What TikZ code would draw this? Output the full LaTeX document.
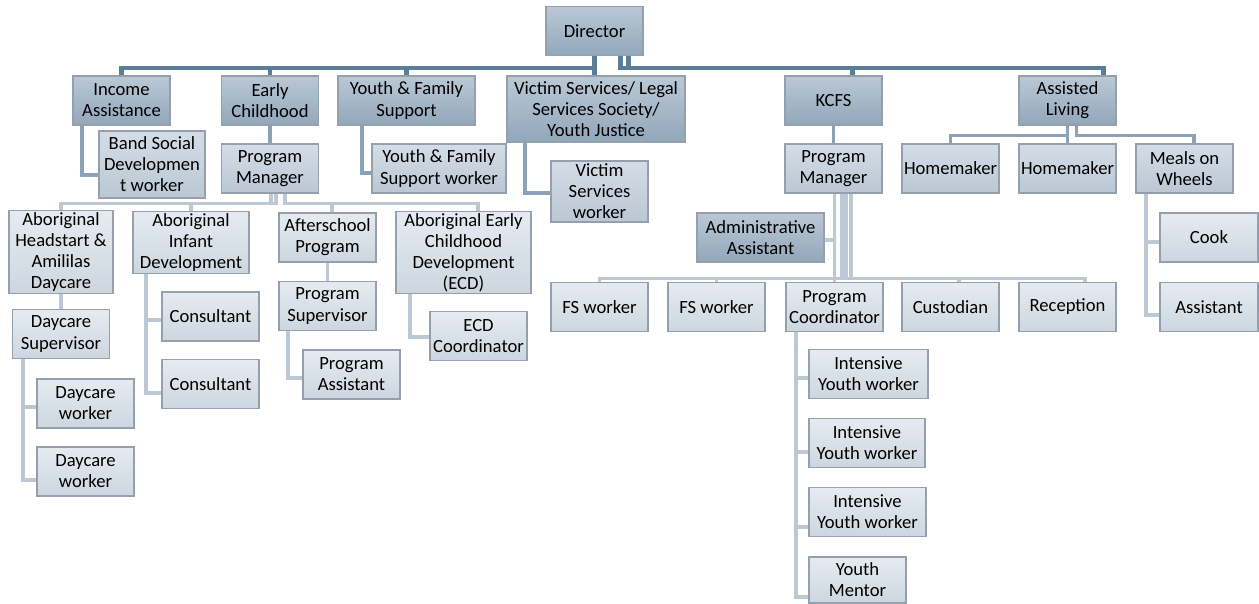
\documentclass[tikz,border=0pt]{standalone}
\usepackage{fontspec}
\setmainfont{Carlito}
\usepackage{tikz}
\usetikzlibrary{positioning,calc,backgrounds}
\usepackage{xcolor}
\definecolor{toplinecolor}{RGB}{90,125,152}
\definecolor{midlinecolor}{RGB}{140,162,182}
\definecolor{lowlinecolor}{RGB}{188,200,212}
\definecolor{boxline}{RGB}{150,160,172}
\definecolor{headtop}{RGB}{186,200,213}
\definecolor{headbot}{RGB}{146,167,187}
\definecolor{midtop}{RGB}{212,221,230}
\definecolor{midbot}{RGB}{186,199,212}
\definecolor{lowtop}{RGB}{229,235,241}
\definecolor{lowbot}{RGB}{205,214,223}

\begin{document}
\begin{tikzpicture}[
    x=0.02cm, y=-0.02cm,
    unit/.style={rectangle, draw=boxline, line width=0.6pt, align=center, inner sep=1pt,
        minimum width=1.94cm, minimum height=0.98cm, font=\fontsize{10.6}{12}\selectfont},
    head/.style={unit, top color=headtop, bottom color=headbot},
    mid/.style={unit, top color=midtop, bottom color=midbot},
    low/.style={unit, top color=lowtop, bottom color=lowbot},
    topline/.style={draw=toplinecolor, line width=2.5pt},
    midline/.style={draw=midlinecolor, line width=2pt},
    lowline/.style={draw=lowlinecolor, line width=2pt},
]
    \useasboundingbox (0,0) rectangle (1259,603);

    % === DIRECTOR ===
    \node[head] (dir) at (594.5,31) {Director};

    % Departments
    \node[head] (inc) at (121.5,100.5) {Income\\Assistance};
    \node[head] (early) at (270,100.5) {Early\\Childhood};
    \node[head, minimum width=2.74cm] (yfs) at (406.5,100.5) {Youth \& Family\\Support};
    \node[head, minimum width=3.56cm, minimum height=1.32cm] (vic) at (596,109) {Victim Services/ Legal\\Services Society/\\Youth Justice};
    \node[head] (kcfs) at (833.5,100.5) {KCFS};
    \node[head] (al) at (1067.5,100.5) {Assisted\\Living};

    % Second row
    \node[mid, minimum width=2.12cm, minimum height=1.34cm] (band) at (152,164.5) {Band Social\\Developmen\\t worker};
    \node[mid] (pmec) at (270,168.5) {Program\\Manager};
    \node[mid, minimum width=2.68cm] (yfsw) at (439,168.5) {Youth \& Family\\Support worker};
    \node[mid, minimum height=1.22cm] (vsw) at (599.5,191.5) {Victim\\Services\\worker};
    \node[mid] (pmkc) at (833.5,168.5) {Program\\Manager};
    \node[mid] (hma) at (950.5,168.5) {Homemaker};
    \node[mid] (hmb) at (1067.5,168.5) {Homemaker};
    \node[mid] (mow) at (1184.5,168.5) {Meals on\\Wheels};

    % Early childhood programs
    \node[low, minimum width=2.08cm, minimum height=1.56cm] (hdst) at (61,252) {Aboriginal\\Headstart \&\\Amililas\\Daycare};
    \node[low, minimum width=2.32cm, minimum height=1.18cm] (inf) at (191,242.5) {Aboriginal\\Infant\\Development};
    \node[low] (aft) at (327.5,237.5) {Afterschool\\Program};
    \node[low, minimum width=2.7cm, minimum height=1.58cm] (ecd) at (463.5,252.5) {Aboriginal Early\\Childhood\\Development\\(ECD)};

    \node[low] (dsup) at (61,334) {Daycare\\Supervisor};
    \node[low] (dwa) at (85.5,403.5) {Daycare\\worker};
    \node[low] (dwb) at (85.5,471.5) {Daycare\\worker};
    \node[low] (cona) at (210.5,316.5) {Consultant};
    \node[low] (conb) at (210.5,384) {Consultant};
    \node[low] (psup) at (327.5,306) {Program\\Supervisor};
    \node[low] (passt) at (351.5,374.5) {Program\\Assistant};
    \node[low] (ecdc) at (478.5,336) {ECD\\Coordinator};

    % KCFS staff
    \node[head, minimum width=2.54cm] (admin) at (760.5,237.5) {Administrative\\Assistant};
    \node[low] (fsa) at (599.5,307) {FS worker};
    \node[low] (fsb) at (716.5,307) {FS worker};
    \node[low] (pc) at (834.5,307) {Program\\Coordinator};
    \node[low] (cust) at (950.5,307) {Custodian};
    \node[low] (rec) at (1067.5,307) {Reception};

    \node[low, minimum width=2.38cm] (iywa) at (868.5,374) {Intensive\\Youth worker};
    \node[low, minimum width=2.32cm] (iywb) at (867,443) {Intensive\\Youth worker};
    \node[low, minimum width=2.34cm] (iywc) at (867.5,512) {Intensive\\Youth worker};
    \node[low, minimum height=0.92cm] (ym) at (857.5,580) {Youth\\Mentor};

    % Meals on wheels staff
    \node[low, minimum width=1.96cm] (cook) at (1209,237.5) {Cook};
    \node[low, minimum width=1.96cm] (asst) at (1209,307) {Assistant};

    % === CONNECTORS ===
    \begin{scope}[on background layer]
    \foreach \n in {inc, early, yfs} {
        \draw[topline] (dir.south) -- ++(0,12) -| (\n.north);
    }
    \draw[topline] (dir.south) -- (dir.south |- vic.north);
    \draw[topline] ($(dir.south)+(26,0)$) -- ++(0,12) -| ($(kcfs.north)+(19,0)$);
    \draw[topline] ($(dir.south)+(34,0)$) -- ++(0,12) -| ($(al.north)+(36,0)$);

    \draw[midline] ($(inc.south)+(-39.5,0)$) |- ($(band.west)+(0,10.5)$);
    \draw[midline] (early.south) -- (pmec.north);
    \draw[midline] ($(yfs.south)+(-44.5,0)$) |- ($(yfsw.west)+(0,4.5)$);
    \draw[midline] ($(vic.south)+(-71,0)$) |- ($(vsw.west)+(0,1.5)$);
    \draw[midline] (kcfs.south) -- (pmkc.north);
    \draw[midline] (al.south) -- ++(0,10) -| (hma.north);
    \draw[midline] (al.south) -- (hmb.north);
    \draw[midline] ($(al.south)+(9,0)$) -- ++(0,10) -| ($(mow.north)+(9.5,0)$);

    % Early childhood
    \draw[lowline] ($(pmec.south)+(1,0)$) -- ++(0,10) -| (hdst.north);
    \draw[lowline] ($(pmec.south)+(6,0)$) -- ++(0,10) -| (inf.north);
    \draw[lowline] ($(pmec.south)+(15,0)$) -- ++(0,10) -| ($(aft.north)+(4.5,0)$);
    \draw[lowline] ($(pmec.south)+(15,0)$) -- ++(0,10) -| ($(ecd.north)+(14.5,0)$);

    \draw[lowline] (hdst.south) -- (dsup.north);
    \draw[lowline] ($(dsup.south)+(-38,0)$) |- ($(dwa.west)+(0,3.5)$);
    \draw[lowline] ($(dsup.south)+(-38,0)$) |- ($(dwb.west)+(0,8.5)$);
    \draw[lowline] ($(inf.south)+(-45,0)$) |- ($(cona.west)+(0,3.5)$);
    \draw[lowline] ($(inf.south)+(-45,0)$) |- ($(conb.west)+(0,9)$);
    \draw[lowline] (aft.south) -- (psup.north);
    \draw[lowline] ($(psup.south)+(-39.5,0)$) |- ($(passt.west)+(0,3.5)$);
    \draw[lowline] ($(ecd.south)+(-53.5,0)$) |- ($(ecdc.west)+(0,1)$);

    % KCFS
    \draw[lowline] ($(pmkc.south)+(1,0)$) |- ($(admin.east)+(0,2.5)$);
    \draw[lowline] ($(pmkc.south)+(1,0)$) -- (pc.north);
    \foreach \n in {fsa, fsb} {
        \draw[lowline] ($(pmkc.south)+(8.5,0)$) -- ++(0,85) -| (\n.north);
    }
    \draw[lowline] ($(pmkc.south)+(12.5,0)$) -- ++(0,85) -| ($(cust.north)+(8.5,0)$);
    \draw[lowline] ($(pmkc.south)+(17.5,0)$) -- ++(0,85) -| ($(rec.north)+(17.5,0)$);

    \draw[lowline] ($(pc.south)+(-38.5,0)$) |- ($(iywa.west)+(0,4)$);
    \draw[lowline] ($(pc.south)+(-38.5,0)$) |- ($(iywb.west)+(0,9)$);
    \draw[lowline] ($(pc.south)+(-38.5,0)$) |- ($(iywc.west)+(0,15)$);
    \draw[lowline] ($(pc.south)+(-38.5,0)$) |- ($(ym.west)+(0,17)$);

    % Assisted living
    \draw[lowline] ($(mow.south)+(-38.5,0)$) |- ($(cook.west)+(0,4.5)$);
    \draw[lowline] ($(mow.south)+(-38.5,0)$) |- ($(asst.west)+(0,8)$);
    \end{scope}

\end{tikzpicture}
\end{document}
